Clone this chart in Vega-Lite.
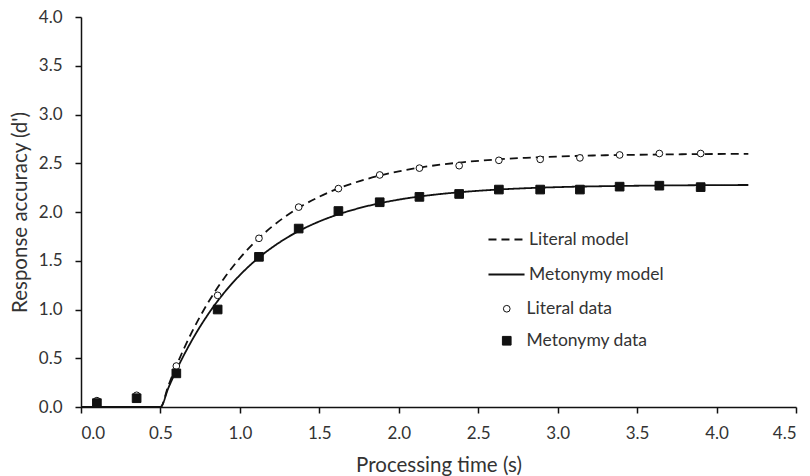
{
  "$schema": "https://vega.github.io/schema/vega-lite/v6.json",
  "width": 715,
  "height": 390,
  "autosize": "none",
  "padding": {"left": 81, "top": 17, "right": 14, "bottom": 69},
  "background": "white",
  "config": {
    "view": {"stroke": null},
    "font": "Lato",
    "axis": {
      "grid": false,
      "domainColor": "#111",
      "domainWidth": 1.5,
      "tickColor": "#111",
      "tickWidth": 1.5,
      "tickSize": 6,
      "labelFont": "Lato",
      "labelFontSize": 17,
      "labelColor": "#333",
      "titleFont": "Lato",
      "titleFontSize": 20.5,
      "titleFontWeight": "normal",
      "titleColor": "#333"
    },
    "legend": {
      "labelFont": "Lato",
      "labelFontSize": 17.5,
      "labelColor": "#333"
    }
  },
  "datasets": {
    "model": [
      {"t": 0, "d": 0, "model": "Literal model"},
      {"t": 0.5, "d": 0, "model": "Literal model"},
      {"t": 0.55, "d": 0.22, "model": "Literal model"},
      {"t": 0.6, "d": 0.422, "model": "Literal model"},
      {"t": 0.7, "d": 0.775, "model": "Literal model"},
      {"t": 0.8, "d": 1.071, "model": "Literal model"},
      {"t": 0.9, "d": 1.319, "model": "Literal model"},
      {"t": 1.0, "d": 1.527, "model": "Literal model"},
      {"t": 1.1, "d": 1.701, "model": "Literal model"},
      {"t": 1.2, "d": 1.847, "model": "Literal model"},
      {"t": 1.3, "d": 1.969, "model": "Literal model"},
      {"t": 1.4, "d": 2.071, "model": "Literal model"},
      {"t": 1.5, "d": 2.157, "model": "Literal model"},
      {"t": 1.6, "d": 2.229, "model": "Literal model"},
      {"t": 1.8, "d": 2.339, "model": "Literal model"},
      {"t": 2.0, "d": 2.417, "model": "Literal model"},
      {"t": 2.2, "d": 2.472, "model": "Literal model"},
      {"t": 2.4, "d": 2.51, "model": "Literal model"},
      {"t": 2.6, "d": 2.537, "model": "Literal model"},
      {"t": 2.8, "d": 2.556, "model": "Literal model"},
      {"t": 3.0, "d": 2.569, "model": "Literal model"},
      {"t": 3.3, "d": 2.582, "model": "Literal model"},
      {"t": 3.6, "d": 2.589, "model": "Literal model"},
      {"t": 3.9, "d": 2.594, "model": "Literal model"},
      {"t": 4.2, "d": 2.596, "model": "Literal model"},
      {"t": 0, "d": 0, "model": "Metonymy model"},
      {"t": 0.5, "d": 0, "model": "Metonymy model"},
      {"t": 0.55, "d": 0.196, "model": "Metonymy model"},
      {"t": 0.6, "d": 0.376, "model": "Metonymy model"},
      {"t": 0.7, "d": 0.689, "model": "Metonymy model"},
      {"t": 0.8, "d": 0.951, "model": "Metonymy model"},
      {"t": 0.9, "d": 1.17, "model": "Metonymy model"},
      {"t": 1.0, "d": 1.353, "model": "Metonymy model"},
      {"t": 1.1, "d": 1.506, "model": "Metonymy model"},
      {"t": 1.2, "d": 1.633, "model": "Metonymy model"},
      {"t": 1.3, "d": 1.74, "model": "Metonymy model"},
      {"t": 1.4, "d": 1.829, "model": "Metonymy model"},
      {"t": 1.5, "d": 1.903, "model": "Metonymy model"},
      {"t": 1.6, "d": 1.965, "model": "Metonymy model"},
      {"t": 1.8, "d": 2.06, "model": "Metonymy model"},
      {"t": 2.0, "d": 2.127, "model": "Metonymy model"},
      {"t": 2.2, "d": 2.173, "model": "Metonymy model"},
      {"t": 2.4, "d": 2.205, "model": "Metonymy model"},
      {"t": 2.6, "d": 2.228, "model": "Metonymy model"},
      {"t": 2.8, "d": 2.244, "model": "Metonymy model"},
      {"t": 3.0, "d": 2.255, "model": "Metonymy model"},
      {"t": 3.3, "d": 2.265, "model": "Metonymy model"},
      {"t": 3.6, "d": 2.271, "model": "Metonymy model"},
      {"t": 3.9, "d": 2.275, "model": "Metonymy model"},
      {"t": 4.2, "d": 2.277, "model": "Metonymy model"}
    ],
    "obs": [
      {"t": 0.1, "d": 0.065, "series": "Literal data"},
      {"t": 0.35, "d": 0.12, "series": "Literal data"},
      {"t": 0.6, "d": 0.42, "series": "Literal data"},
      {"t": 0.86, "d": 1.145, "series": "Literal data"},
      {"t": 1.12, "d": 1.73, "series": "Literal data"},
      {"t": 1.37, "d": 2.05, "series": "Literal data"},
      {"t": 1.62, "d": 2.24, "series": "Literal data"},
      {"t": 1.88, "d": 2.38, "series": "Literal data"},
      {"t": 2.13, "d": 2.45, "series": "Literal data"},
      {"t": 2.38, "d": 2.475, "series": "Literal data"},
      {"t": 2.63, "d": 2.53, "series": "Literal data"},
      {"t": 2.89, "d": 2.54, "series": "Literal data"},
      {"t": 3.14, "d": 2.555, "series": "Literal data"},
      {"t": 3.39, "d": 2.585, "series": "Literal data"},
      {"t": 3.64, "d": 2.6, "series": "Literal data"},
      {"t": 3.9, "d": 2.6, "series": "Literal data"},
      {"t": 0.1, "d": 0.04, "series": "Metonymy data"},
      {"t": 0.35, "d": 0.09, "series": "Metonymy data"},
      {"t": 0.6, "d": 0.345, "series": "Metonymy data"},
      {"t": 0.86, "d": 1.0, "series": "Metonymy data"},
      {"t": 1.12, "d": 1.54, "series": "Metonymy data"},
      {"t": 1.37, "d": 1.83, "series": "Metonymy data"},
      {"t": 1.62, "d": 2.01, "series": "Metonymy data"},
      {"t": 1.88, "d": 2.1, "series": "Metonymy data"},
      {"t": 2.13, "d": 2.155, "series": "Metonymy data"},
      {"t": 2.38, "d": 2.185, "series": "Metonymy data"},
      {"t": 2.63, "d": 2.23, "series": "Metonymy data"},
      {"t": 2.89, "d": 2.23, "series": "Metonymy data"},
      {"t": 3.14, "d": 2.23, "series": "Metonymy data"},
      {"t": 3.39, "d": 2.26, "series": "Metonymy data"},
      {"t": 3.64, "d": 2.27, "series": "Metonymy data"},
      {"t": 3.9, "d": 2.255, "series": "Metonymy data"}
    ]
  },
  "encoding": {
    "x": {
      "field": "t", "type": "quantitative",
      "scale": {"domain": [0, 4.5], "nice": false},
      "axis": {"values": [0, 0.5, 1, 1.5, 2, 2.5, 3, 3.5, 4, 4.5], "format": ".1f", "title": "Processing time (s)", "labelPadding": 12, "titlePadding": 14}
    },
    "y": {
      "field": "d", "type": "quantitative",
      "scale": {"domain": [0, 4], "nice": false},
      "axis": {"values": [0, 0.5, 1, 1.5, 2, 2.5, 3, 3.5, 4], "format": ".1f", "title": "Response accuracy (d')", "labelPadding": 13, "titlePadding": 8}
    }
  },
  "layer": [
    {
      "data": {"name": "model"},
      "mark": {"type": "line", "interpolate": "monotone", "color": "#111", "strokeWidth": 1.8},
      "encoding": {
        "detail": {"field": "model"},
        "strokeDash": {
          "field": "model", "type": "nominal",
          "scale": {"domain": ["Literal model", "Metonymy model"], "range": [[8, 5], [1, 0]]},
          "legend": {
            "orient": "none", "legendX": 406, "legendY": 203, "title": null,
            "symbolType": "stroke", "symbolSize": 1300, "symbolStrokeWidth": 2,
            "symbolStrokeColor": "#111", "labelOffset": 3, "rowPadding": 7
          }
        }
      }
    },
    {
      "data": {"name": "obs"},
      "mark": {"type": "point", "filled": true, "stroke": "#111", "strokeWidth": 1, "opacity": 1},
      "encoding": {
        "shape": {
          "field": "series", "type": "nominal",
          "scale": {"domain": ["Literal data", "Metonymy data"], "range": ["circle", "square"]},
          "legend": {
            "orient": "none", "legendX": 417, "legendY": 283, "title": null,
            "symbolStrokeColor": "#111", "symbolStrokeWidth": 1, "labelOffset": 11, "rowPadding": 13
          }
        },
        "fill": {
          "field": "series", "type": "nominal",
          "scale": {"domain": ["Literal data", "Metonymy data"], "range": ["white", "#111"]}
        },
        "size": {
          "field": "series", "type": "nominal",
          "scale": {"domain": ["Literal data", "Metonymy data"], "range": [45, 75]}
        }
      }
    }
  ]
}
